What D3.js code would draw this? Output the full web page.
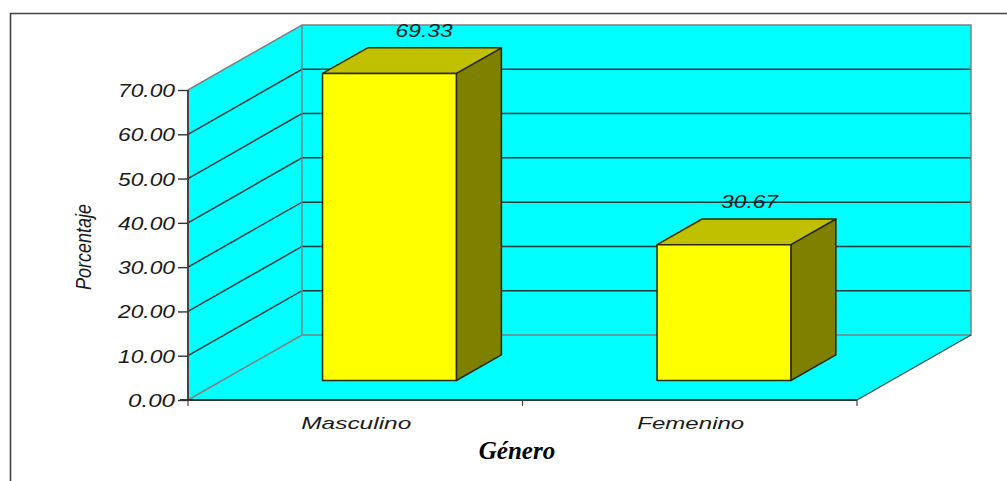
<!DOCTYPE html>
<html>
<head>
<meta charset="utf-8">
<script src="https://cdn.jsdelivr.net/npm/d3@7"></script>
<style>
html,body{margin:0;padding:0;background:#fff;overflow:hidden}
svg{display:block}
text{fill:#1a1a1a;font-family:"Liberation Sans",Arial,sans-serif;font-style:italic}
</style>
</head>
<body>
<svg id="chart" width="1007" height="481"></svg>
<script>
const categories = ["Masculino", "Femenino"];
const percentages = [69.33, 30.67];
const valueTicks = [0, 10, 20, 30, 40, 50, 60, 70];

const svg = d3.select("#chart");
const plot = {left: 188, right: 857, bottom: 400, top: 90};
const floorDepth = {dx: 114, dy: -65};
const barInset = 0.3;     // bar front face, as a fraction of the floor depth
const barDepth = 0.395;   // bar thickness, as a fraction of the floor depth

const y = d3.scaleLinear().domain([0, 70]).range([plot.bottom, plot.top]);
const x = d3.scaleBand().domain(categories).range([plot.left, plot.right])
  .paddingInner(0.6).paddingOuter(0.3);

// Oblique projection: depth t runs from the front plane (0) to the back wall (1)
const px = (sx, t) => sx + floorDepth.dx * t;
const py = (sy, t) => sy + floorDepth.dy * t;
const poly = pts => pts.map(p => p.join(",")).join(" ");

const EDGE = "#808080", WALL = "#00ffff";
const g = svg.append("g");

// Outer frame, open on the right and bottom
g.append("path").attr("d", "M10.5,481V13.5H1007").attr("fill", "none")
  .attr("stroke", "#444").attr("stroke-width", 1.6);

// Walls and floor
const [L, R, B, T] = [plot.left, plot.right, plot.bottom, plot.top];
g.append("polygon").attr("fill", WALL).attr("points",
  poly([[px(L,1),py(T,1)],[px(R,1),py(T,1)],[px(R,1),py(B,1)],[px(L,1),py(B,1)]]));
g.append("polygon").attr("fill", WALL).attr("points",
  poly([[L,T],[px(L,1),py(T,1)],[px(L,1),py(B,1)],[L,B]]));
g.append("polygon").attr("fill", WALL).attr("points",
  poly([[L,B],[R,B],[px(R,1),py(B,1)],[px(L,1),py(B,1)]]));

// Gridlines across the side wall and the back wall
valueTicks.filter(v => v > 0 && v < 70).forEach(v => {
  g.append("polyline").attr("fill", "none").attr("stroke", "#0a3a3a").attr("stroke-width", 1.5)
    .attr("points", poly([[L, y(v)], [px(L,1), py(y(v),1)], [px(R,1), py(y(v),1)]]));
});

// Wall outlines
g.append("path").attr("fill", "none").attr("stroke", EDGE).attr("stroke-width", 1.5)
  .attr("d", `M${L},${T}L${px(L,1)},${py(T,1)}H${px(R,1)}V${py(B,1)}H${px(L,1)}V${py(T,1)}M${L},${B}L${px(L,1)},${py(B,1)}`);
g.append("line").attr("stroke", "#2b4a4a").attr("stroke-width", 1.3)
  .attr("x1", R).attr("y1", B).attr("x2", px(R,1)).attr("y2", py(B,1));

// Axes
const yAxis = d3.axisLeft(y).tickValues(valueTicks).tickSize(10).tickFormat(d3.format(".2f"));
const yG = g.append("g").attr("transform", `translate(${L},0)`).call(yAxis);
yG.select(".domain").attr("stroke", "#444").attr("stroke-width", 2).attr("d", `M0,${T}V${B}`);
yG.selectAll(".tick line").attr("stroke", "#333").attr("stroke-width", 1.4);
yG.selectAll(".tick text").remove();

const xTicks = [L, (L + R) / 2, R];
g.append("line").attr("stroke", "#333").attr("stroke-width", 2.2)
  .attr("x1", L - 8).attr("x2", R).attr("y1", B).attr("y2", B);
g.selectAll(".xtick").data(xTicks).join("line").attr("class", "xtick")
  .attr("stroke", "#444").attr("stroke-width", 1.2)
  .attr("x1", d => d).attr("x2", d => d).attr("y1", B).attr("y2", B + 6);

// Bars: front, top and side faces
const bars = g.selectAll(".bar").data(categories.map((c, i) => ({c, v: percentages[i]})))
  .join("g").attr("class", "bar")
  .attr("stroke", "#2a2a00").attr("stroke-width", 1.5).attr("stroke-linejoin", "round");
const corners = d => {
  const x0 = x(d.c), x1 = x0 + x.bandwidth(), t0 = barInset, t1 = barInset + barDepth;
  return {x0, x1, t0, t1, top: y(d.v), base: y(0)};
};
bars.append("polygon").attr("fill", "#808000").attr("points", d => {
  const k = corners(d);
  return poly([[px(k.x1,k.t0),py(k.top,k.t0)],[px(k.x1,k.t1),py(k.top,k.t1)],
               [px(k.x1,k.t1),py(k.base,k.t1)],[px(k.x1,k.t0),py(k.base,k.t0)]]);
});
bars.append("polygon").attr("fill", "#c0c000").attr("points", d => {
  const k = corners(d);
  return poly([[px(k.x0,k.t0),py(k.top,k.t0)],[px(k.x0,k.t1),py(k.top,k.t1)],
               [px(k.x1,k.t1),py(k.top,k.t1)],[px(k.x1,k.t0),py(k.top,k.t0)]]);
});
bars.append("polygon").attr("fill", "#ffff00").attr("points", d => {
  const k = corners(d);
  return poly([[px(k.x0,k.t0),py(k.top,k.t0)],[px(k.x1,k.t0),py(k.top,k.t0)],
               [px(k.x1,k.t0),py(k.base,k.t0)],[px(k.x0,k.t0),py(k.base,k.t0)]]);
});

// The labels use a wide italic: stretch each one to its set length
const stretched = (sel, size, len) => sel
  .attr("font-size", size).attr("textLength", len).attr("lengthAdjust", "spacingAndGlyphs");

// Value tick labels
g.selectAll(".ylabel").data(valueTicks).join("text").attr("class", "ylabel")
  .attr("x", d => d === 0 ? 175 - 47 : 175 - 57).attr("y", d => y(d) + 7)
  .text(d => d3.format(".2f")(d))
  .each(function(d) { stretched(d3.select(this), 19, d === 0 ? 47 : 57); });

// Category labels
const catWidth = {Masculino: 110, Femenino: 107};
g.selectAll(".xlabel").data(categories).join("text").attr("class", "xlabel")
  .attr("x", d => x(d) + x.bandwidth() / 2 - catWidth[d] / 2 + 1)
  .attr("y", 429).text(d => d)
  .each(function(d) { stretched(d3.select(this), 17, catWidth[d]); });

// Data labels above the bars
const labelShift = {Masculino: 28, Femenino: 19};
bars.append("text").attr("stroke", "none")
  .attr("x", d => { const k = corners(d); return px(k.x0, k.t1) + labelShift[d.c]; })
  .attr("y", d => { const k = corners(d); return py(k.top, k.t1) - 11; })
  .text(d => d.v.toFixed(2))
  .each(function() { stretched(d3.select(this), 19, 57); });

// Axis titles
g.append("text").attr("transform", "translate(91,290) rotate(-90)").text("Porcentaje")
  .call(stretched, 22, 86);
g.append("text").attr("x", 517).attr("y", 459).attr("text-anchor", "middle")
  .style("font-family", '"Liberation Serif","Times New Roman",serif')
  .style("fill", "#000").attr("font-weight", "bold").attr("font-size", 25).text("Género");
</script>
</body>
</html>
